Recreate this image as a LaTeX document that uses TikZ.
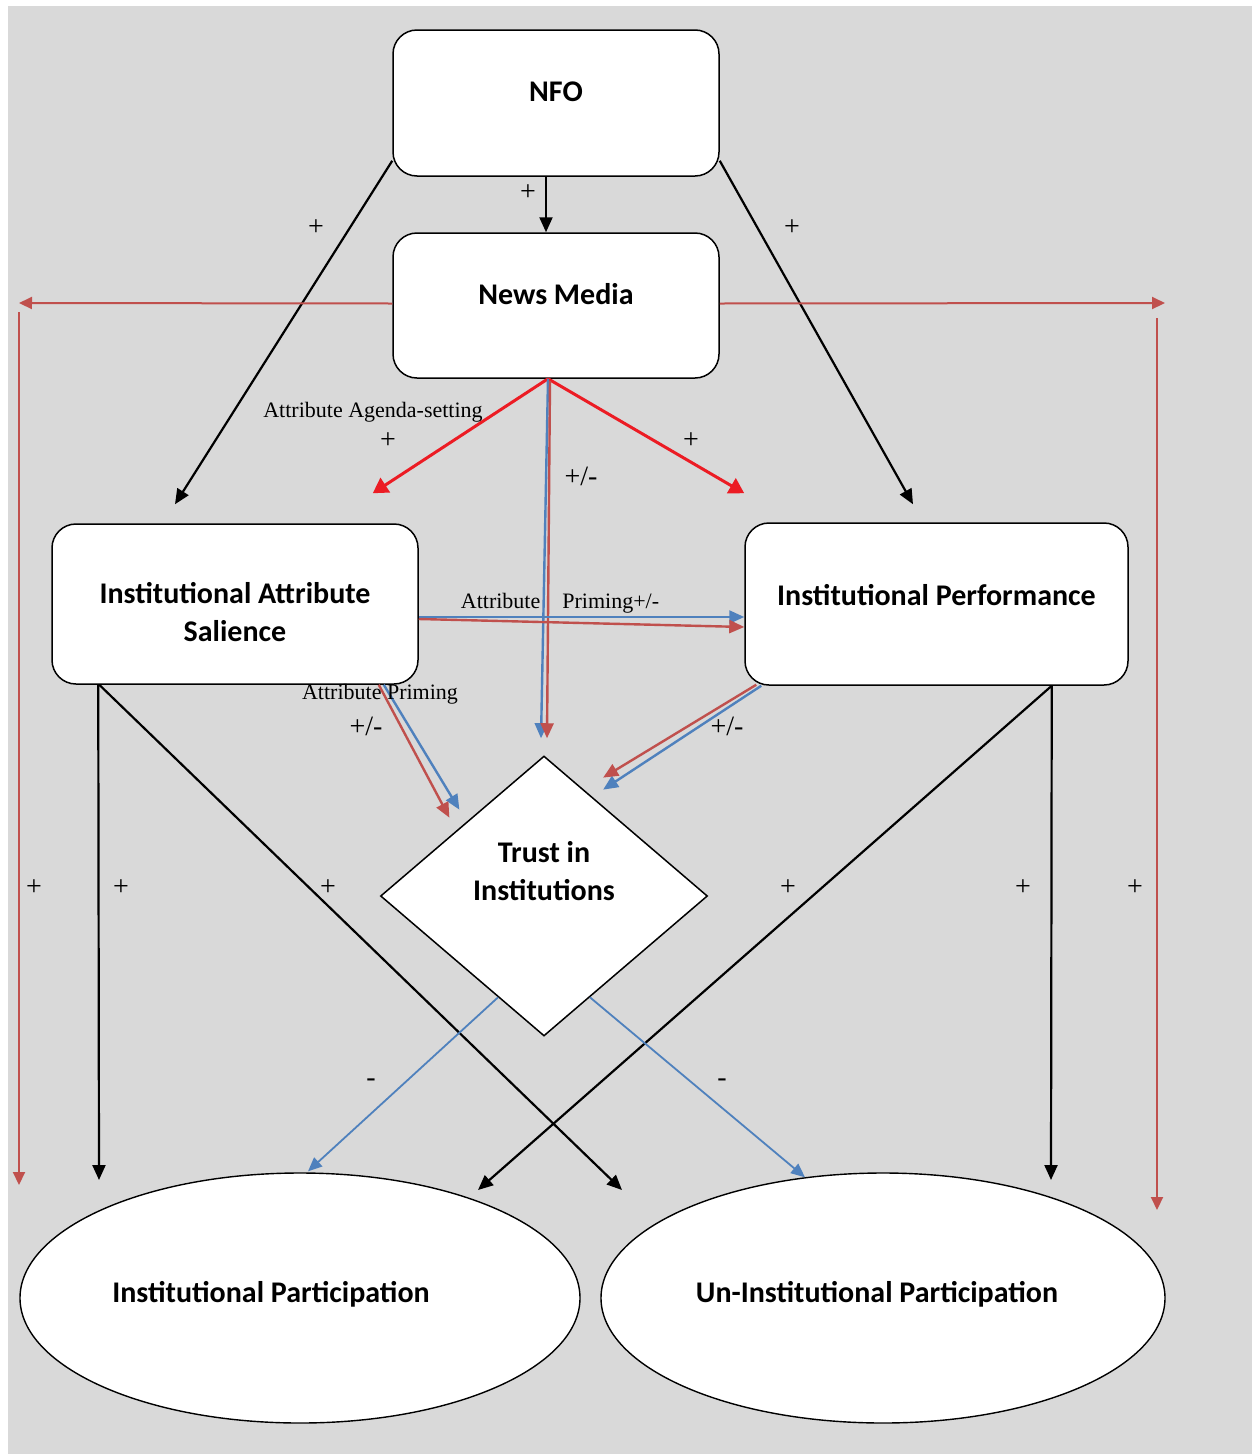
\documentclass[tikz,border=0pt]{standalone}
\usepackage{fontspec}
\setmainfont{Liberation Serif}
\newfontfamily\calibri{Carlito}
\usetikzlibrary{arrows.meta,calc,shapes.geometric}

\definecolor{bggray}{RGB}{217,217,217}
\definecolor{framered}{RGB}{192,80,77}
\definecolor{hotred}{RGB}{236,28,36}
\definecolor{linkblue}{RGB}{79,129,189}

\tikzset{
  box/.style={draw, line width=1.5pt, fill=white, rounded corners=24pt, inner sep=0pt},
  trustbox/.style={diamond, draw, line width=1.5pt, fill=white, inner sep=0pt},
  oval/.style={ellipse, draw, line width=1.4pt, fill=white, inner sep=0pt},
  boxtext/.style={font=\calibri\bfseries\fontsize{30}{38}\selectfont, align=center},
  sign/.style={font=\fontsize{28}{32}\selectfont, inner sep=0pt},
  note/.style={font=\fontsize{22}{26}\selectfont, inner sep=0pt},
  blk/.style={line width=2.2pt, -{Triangle[length=15pt,width=13pt]}},
  framed/.style={framered, line width=2pt, -{Triangle[length=13pt,width=12pt]}},
  hot/.style={hotred, line width=3pt, -{Triangle[length=15pt,width=17pt]}},
  bluelink/.style={linkblue, line width=2.4pt, -{Triangle[length=15pt,width=13pt]}},
  redlink/.style={framered, line width=2.4pt, -{Triangle[length=15pt,width=13pt]}},
  thinblue/.style={linkblue, line width=1.8pt, -{Triangle[length=14pt,width=12pt]}}
}

\begin{document}
\begin{tikzpicture}[x=1pt, y=-1pt]
  \useasboundingbox (0,0) rectangle (1252,1454);
  \fill[white] (0,0) rectangle (1252,1454);
  \fill[bggray] (8,6) rectangle (1252,1454);

  % boxes
  \node[box, minimum width=326, minimum height=146, label={[boxtext, yshift=11pt]center:NFO}] (nfo) at (556,103) {};
  \node[box, minimum width=326, minimum height=145, label={[boxtext, yshift=11pt]center:News Media}] (media) at (556,305.5) {};
  \node[box, minimum width=366, minimum height=160, label={[boxtext, yshift=-8pt]center:Institutional Attribute\\Salience}] (salience) at (235,604) {};
  \node[box, minimum width=383, minimum height=162, label={[boxtext, yshift=9pt]center:Institutional Performance}] (perform) at (936.5,604) {};
  \node[trustbox, minimum width=327, minimum height=280, label={[boxtext, yshift=25pt]center:Trust in\\Institutions}] (trust) at (544,896) {};
  \node[oval, minimum width=560, minimum height=250, label={[boxtext, xshift=-29pt, yshift=4pt]center:Institutional Participation}] (instpart) at (300,1298) {};
  \node[oval, minimum width=564, minimum height=250, label={[boxtext, xshift=-6pt, yshift=4pt]center:Un-Institutional Participation}] (uninstpart) at (883,1298) {};

  % free ends
  \coordinate (frameTL) at (19,303);
  \coordinate (frameBL) at (19,1185);
  \coordinate (frameTR) at (1165,303);
  \coordinate (frameRtop) at (1157,318);
  \coordinate (frameBR) at (1157,1210);
  \coordinate (ipTipL) at (99,1180);
  \coordinate (ipTipR) at (478,1190);
  \coordinate (upTipL) at (622,1190);
  \coordinate (upTipR) at (1051,1180);

  % NFO
  \draw[blk] ([xshift=-10pt]nfo.south) -- ([xshift=-10pt]media.north);
  \draw[blk] ([yshift=16pt]nfo.south west) -- ([xshift=-60pt, yshift=19pt]salience.north);
  \draw[blk] ([yshift=16pt]nfo.south east) -- ([xshift=-23.5pt, yshift=18pt]perform.north);

  % outer frame
  \draw[framed] ([yshift=2pt]media.west) -- (frameTL);
  \draw[framed] ([yshift=-9pt]frameTL) -- (frameBL);
  \draw[framed] ([yshift=2pt]media.east) -- (frameTR);
  \draw[framed] (frameRtop) -- (frameBR);

  % agenda-setting
  \draw[hot] ([xshift=-8pt]media.south) -- ([xshift=-46pt, yshift=30pt]salience.north east);
  \draw[hot] ([xshift=-8pt]media.south) -- ([yshift=29pt]perform.north west);

  % priming
  \draw[bluelink] ([xshift=-8pt]media.south) -- ([xshift=-3pt, yshift=17pt]trust.north);
  \draw[redlink] ([xshift=-6pt, yshift=-2pt]media.south) -- ([xshift=3pt, yshift=17pt]trust.north);
  \draw[bluelink] ([yshift=-13pt]salience.east) -- ([yshift=-13pt]perform.west);
  \draw[redlink] ([yshift=-15pt]salience.east) -- ([yshift=-23pt]perform.west);
  \draw[bluelink] ([xshift=-35pt]salience.south east) -- ([xshift=-2.5pt, yshift=16pt]trust.north west);
  \draw[redlink] ([xshift=-40pt]salience.south east) -- ([xshift=-12.5pt, yshift=8pt]trust.north west);
  \draw[bluelink] ([xshift=17pt]perform.south west) -- ([xshift=-23pt, yshift=36pt]trust.north east);
  \draw[redlink] ([xshift=12pt, yshift=1pt]perform.south west) -- ([xshift=-23pt, yshift=48pt]trust.north east);

  % participation
  \draw[blk] ([xshift=47pt]salience.south west) -- (ipTipL);
  \draw[blk] ([xshift=48pt]salience.south west) -- (upTipL);
  \draw[blk] ([xshift=-77pt]perform.south east) -- (upTipR);
  \draw[blk] ([xshift=-77pt]perform.south east) -- (ipTipR);
  \draw[thinblue] ($(trust.west)!0.72!(trust.south)$) -- ([xshift=8pt, yshift=1pt]instpart.north);
  \draw[thinblue] ($(trust.south)!0.28!(trust.east)$) -- ([xshift=-78pt, yshift=-5pt]uninstpart.north);

  % signs
  \node[sign] (pNfoMedia) at (528,193) {+};
  \node[sign] (pNfoSal) at (316,228) {+};
  \node[sign] (pNfoPerf) at (792,228) {+};
  \node[note] (agendaTxt) at (373,412) {Attribute Agenda-setting};
  \node[sign] (pAgendaL) at (388,441) {+};
  \node[sign] (pAgendaR) at (691,441) {+};
  \node[sign] (pmMediaTrust) at (581,476) {+/-};
  \node[note] (primeTxtA) at (560,603) {Attribute\quad Priming+/-};
  \node[note] (primeTxtB) at (380,694) {Attribute Priming};
  \node[sign] (pmSalTrust) at (366,726) {+/-};
  \node[sign] (pmPerfTrust) at (727,726) {+/-};
  \foreach \x/\n in {34/a,121/b,328/c,788/d,1023/e,1135/f}
    \node[sign] (plus\n) at (\x,888) {+};
  \node[sign] (minusL) at (371,1083) {-};
  \node[sign] (minusR) at (722,1083) {-};
\end{tikzpicture}
\end{document}
